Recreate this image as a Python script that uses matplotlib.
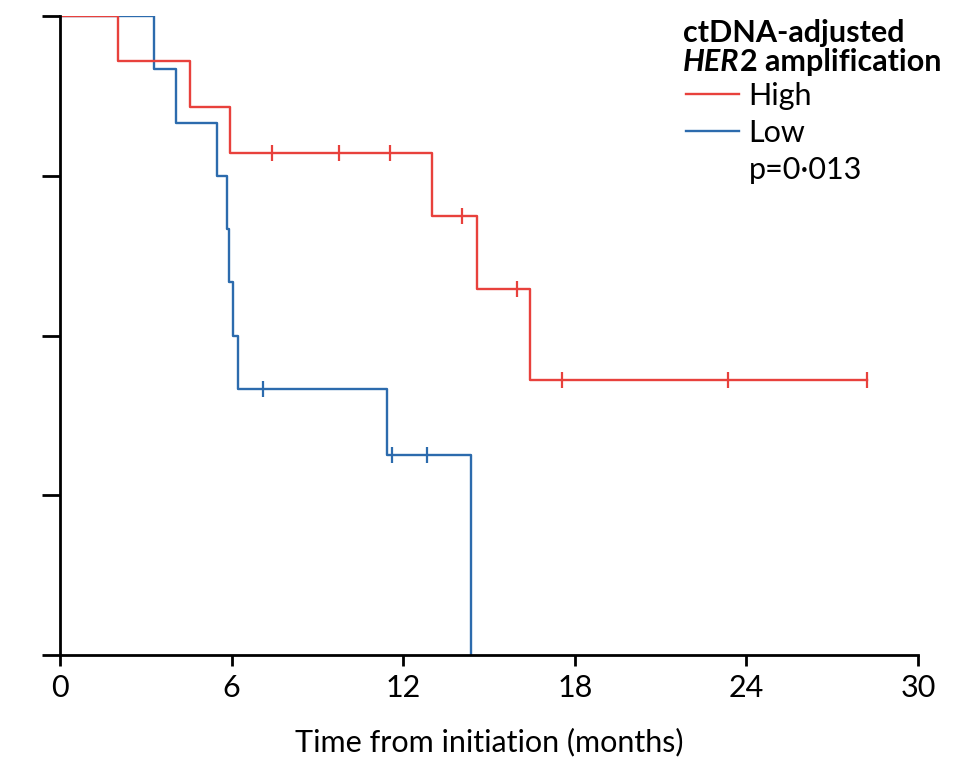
import numpy as np
import matplotlib
matplotlib.use('Agg')
import matplotlib.pyplot as plt

plt.rcParams['font.family'] = ['Lato', 'DejaVu Sans']

# Kaplan-Meier steps
high_t = [0, 2.04, 4.55, 5.94, 13.02, 14.57, 16.43, 28.2]
high_s = [1.0, 0.929, 0.857, 0.786, 0.6875, 0.573, 0.43, 0.43]
high_cens = [7.4, 9.76, 11.54, 14.04, 15.97, 17.56, 23.37, 28.2]

low_t = [0, 3.28, 4.04, 5.5, 5.83, 5.9, 6.06, 6.22, 11.42, 14.37]
low_s = [1.0, 0.917, 0.833, 0.75, 0.667, 0.583, 0.5, 0.417, 0.3125, 0.0]
low_cens = [7.11, 11.6, 12.84]

x_ticks = [0, 6, 12, 18, 24, 30]
y_ticks = [0, 0.25, 0.5, 0.75, 1.0]

red = '#e8413c'
blue = '#2c6bad'
fs = 22


def surv_at(t, times, surv):
    i = np.searchsorted(times, t, side='right') - 1
    return surv[i]


fig = plt.figure(figsize=(9.69, 7.57), dpi=100)
ax = fig.add_axes([60/969, 1-655/757, 858/969, 639/757])

ax.step(low_t, low_s, where='post', color=blue, lw=1.7, label='Low')
ax.step(high_t, high_s, where='post', color=red, lw=1.7, label='High')
ax.plot(low_cens, [surv_at(t, low_t, low_s) for t in low_cens], ls='none',
        marker='|', ms=11, mew=1.6, color=blue)
ax.plot(high_cens, [surv_at(t, high_t, high_s) for t in high_cens], ls='none',
        marker='|', ms=11, mew=1.6, color=red)

ax.set_xlim(0, 30)
ax.set_ylim(0, 1)
ax.set_xticks(x_ticks)
ax.set_yticks(y_ticks)
ax.set_yticklabels([])
ax.tick_params(axis='y', length=13, width=2)
ax.tick_params(axis='x', length=8, width=2, labelsize=fs, pad=6)
for s in ['top', 'right']:
    ax.spines[s].set_visible(False)
for s in ['left', 'bottom']:
    ax.spines[s].set_linewidth(2)
ax.set_xlabel('Time from initiation (months)', fontsize=fs, labelpad=18)

# legend title: bold, with italic gene name
fig.text(683/969, 1-42/757, 'ctDNA-adjusted', fontsize=fs, fontweight='bold')
her = fig.text(683/969, 1-71/757, 'HER', fontsize=fs, fontweight='bold',
               fontstyle='italic')
ax.annotate('2 amplification', xy=(1, 0), xycoords=her, fontsize=fs,
            fontweight='bold', va='bottom', annotation_clip=False)

h_red, = ax.plot([], [], color=red, lw=1.7)
h_blue, = ax.plot([], [], color=blue, lw=1.7)
h_none, = ax.plot([], [], color='none')
ax.legend([h_red, h_blue, h_none], ['High', 'Low', 'p=0·013'],
          loc='upper left', bbox_to_anchor=(686/969, 1-82/757),
          bbox_transform=fig.transFigure, frameon=False, fontsize=fs,
          borderpad=0, borderaxespad=0, handlelength=1.75, handletextpad=0.3,
          labelspacing=0.3)

fig.savefig('out.png', dpi=100)
